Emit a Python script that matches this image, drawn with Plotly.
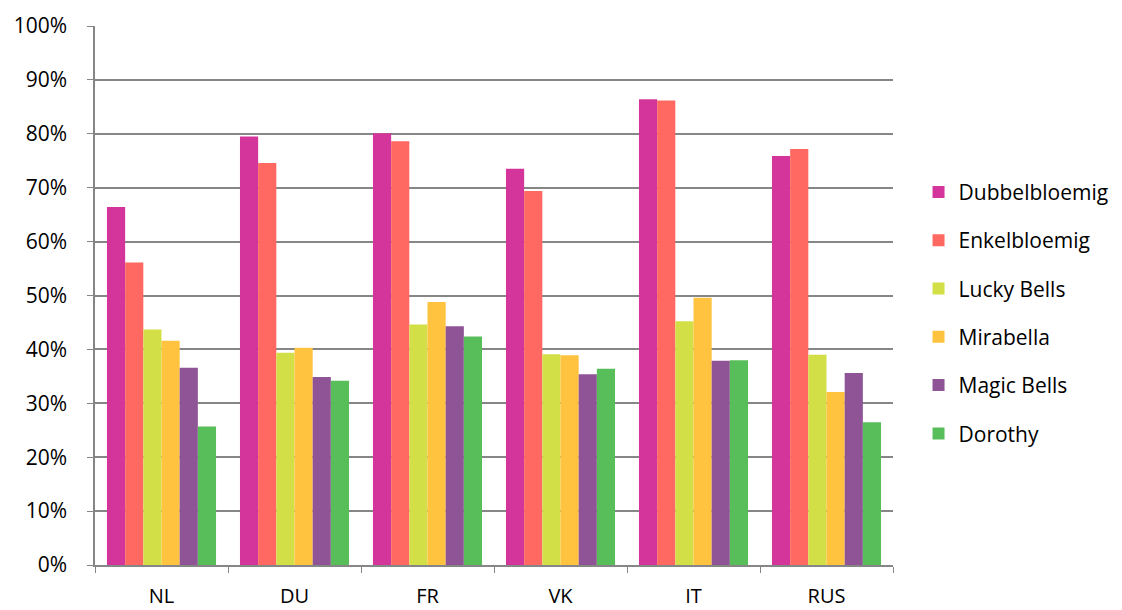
import plotly.graph_objects as go

categories = ["NL", "DU", "FR", "VK", "IT", "RUS"]
series_names = ["Dubbelbloemig", "Enkelbloemig", "Lucky Bells", "Mirabella", "Magic Bells", "Dorothy"]
dubbelbloemig = [66.4, 79.5, 80.1, 73.5, 86.4, 75.9]
enkelbloemig = [56.1, 74.6, 78.6, 69.4, 86.2, 77.2]
lucky_bells = [43.7, 39.4, 44.6, 39.1, 45.2, 39.0]
mirabella = [41.6, 40.3, 48.8, 38.9, 49.6, 32.1]
magic_bells = [36.6, 34.9, 44.3, 35.4, 37.9, 35.6]
dorothy = [25.7, 34.2, 42.4, 36.4, 38.0, 26.5]
colors = ["#D4359A", "#FF6961", "#D3DF47", "#FFC340", "#8E5496", "#58BE5A"]
y_ticks = list(range(0, 101, 10))
y_tick_labels = [f"{v}%" for v in y_ticks]

values = [dubbelbloemig, enkelbloemig, lucky_bells, mirabella, magic_bells, dorothy]

fig = go.Figure()
for name, vals, col in zip(series_names, values, colors):
    fig.add_trace(go.Bar(x=categories, y=vals, name=name, marker_color=col,
                         marker_line_width=0, legendgroup=name))

fig.update_layout(
    width=1122, height=610,
    margin=dict(l=87, r=237, t=18, b=53, autoexpand=False),
    plot_bgcolor="white", paper_bgcolor="white",
    barmode="group", bargap=0.18, bargroupgap=0,
    font=dict(family="Open Sans, sans-serif", size=20, color="#000000"),
    legend=dict(x=1.032, xanchor="left", y=0.468, yanchor="middle",
                font=dict(size=21), tracegroupgap=18, itemwidth=30),
    showlegend=True,
)
fig.update_xaxes(showline=True, linecolor="#868686", linewidth=1.5,
                 ticks="outside", tickson="boundaries", ticklen=6, tickcolor="#868686",
                 tickfont=dict(size=20), showgrid=False, automargin=False,
                 ticklabelstandoff=12)
fig.update_yaxes(range=[0, 100], tickvals=y_ticks, ticktext=y_tick_labels,
                 showline=True, linecolor="#868686", linewidth=1.5,
                 ticks="outside", ticklen=6, tickcolor="#868686",
                 showgrid=True, gridcolor="#868686", gridwidth=1.5,
                 tickfont=dict(size=21), zeroline=False, automargin=False,
                 ticklabelstandoff=16)

fig.write_html("out.html")
